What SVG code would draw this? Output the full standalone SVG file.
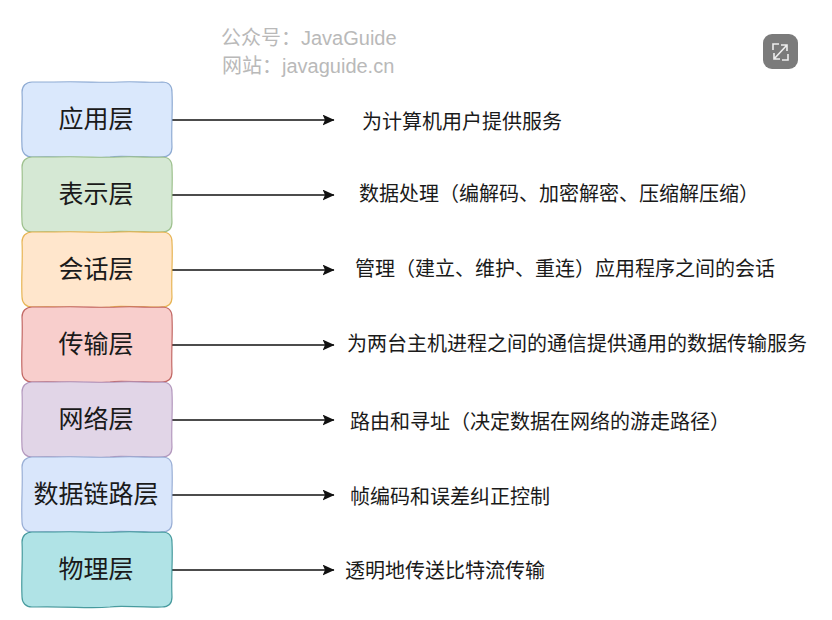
<svg xmlns="http://www.w3.org/2000/svg" width="832" height="620" viewBox="0 0 832 620">
<style>
text{font-family:"Noto Sans CJK SC","Liberation Sans",sans-serif}
.box{stroke-width:1.2;stroke-opacity:.85}
.name{font-size:25px;fill:#1a1a1a;text-anchor:middle}
.note{font-size:20px;fill:#1a1a1a}
.mark{font-size:20px;fill:#b9b9b9;font-family:"Liberation Sans","Noto Sans CJK SC",sans-serif}
.link{fill:none;stroke:#111;stroke-width:1.3;marker-end:url(#head)}
</style>
<defs>
<marker id="head" viewBox="0 0 12 11" refX="11.5" refY="5.5" markerWidth="12" markerHeight="11" markerUnits="userSpaceOnUse" orient="auto"><path d="M0 0L12 5.5L0 11L2.5 5.5Z" fill="#111"/></marker>
<path id="frame" d="M32 0C60 -1 78 1 97 0C115 -1 130 1 140 0C147 0 150 4 150 10C151 28 149 45 150 65C150 71 147 75 140 75C118 76 100 73 88 75C65 77 50 74 10 75C4 75 0 71 0 65C-1 45 1 28 0 10C0 4 4 0 10 0C18 0 25 0 32 0Z"/>
</defs>
<rect width="832" height="620" fill="#fff"/>
<g id="watermark">
<text class="mark" x="221" y="45">公众号：JavaGuide</text>
<text class="mark" x="222" y="73">网站：javaguide.cn</text>
</g>
<g id="expand-button">
<rect x="763" y="34" width="35" height="35" rx="9" fill="#7b7b7b"/>
<path d="M779 44H773V50M788 54V60H782M774 59L787 45M781 45H787V51M774 53V59H780" fill="none" stroke="#eee" stroke-width="1.6"/>
</g>
<g id="connectors">
<path class="link" d="M172 120H334"/>
<path class="link" d="M172 195H334"/>
<path class="link" d="M172 270H334"/>
<path class="link" d="M172 345H334"/>
<path class="link" d="M172 420H334"/>
<path class="link" d="M172 495H334"/>
<path class="link" d="M172 570H334"/>
</g>
<g id="application"><use href="#frame" class="box" x="22" y="82" fill="#dae8fc" stroke="#7f9fcb"/><text class="name" x="96" y="128">应用层</text></g>
<g id="presentation"><use href="#frame" class="box" x="22" y="157" fill="#d5e8d4" stroke="#92b97f"/><text class="name" x="96" y="203">表示层</text></g>
<g id="session"><use href="#frame" class="box" x="22" y="232" fill="#ffe6cc" stroke="#e3aa3c"/><text class="name" x="96" y="278">会话层</text></g>
<g id="transport"><use href="#frame" class="box" x="22" y="307" fill="#f8cecc" stroke="#b85450"/><text class="name" x="96" y="353">传输层</text></g>
<g id="network"><use href="#frame" class="box" x="22" y="382" fill="#e1d5e7" stroke="#a98bb5"/><text class="name" x="96" y="428">网络层</text></g>
<g id="data-link"><use href="#frame" class="box" x="22" y="457" fill="#d9e6fb" stroke="#8ca3cf"/><text class="name" x="96" y="503">数据链路层</text></g>
<g id="physical"><use href="#frame" class="box" x="22" y="532" fill="#b0e3e6" stroke="#2f8c8f"/><text class="name" x="96" y="578">物理层</text></g>
<g id="notes">
<text class="note" x="362" y="129">为计算机用户提供服务</text>
<text class="note" x="359" y="201">数据处理（编解码、加密解密、压缩解压缩）</text>
<text class="note" x="355" y="276">管理（建立、维护、重连）应用程序之间的会话</text>
<text class="note" x="347" y="351">为两台主机进程之间的通信提供通用的数据传输服务</text>
<text class="note" x="350" y="429">路由和寻址（决定数据在网络的游走路径）</text>
<text class="note" x="350" y="504">帧编码和误差纠正控制</text>
<text class="note" x="345" y="578">透明地传送比特流传输</text>
</g>
</svg>
